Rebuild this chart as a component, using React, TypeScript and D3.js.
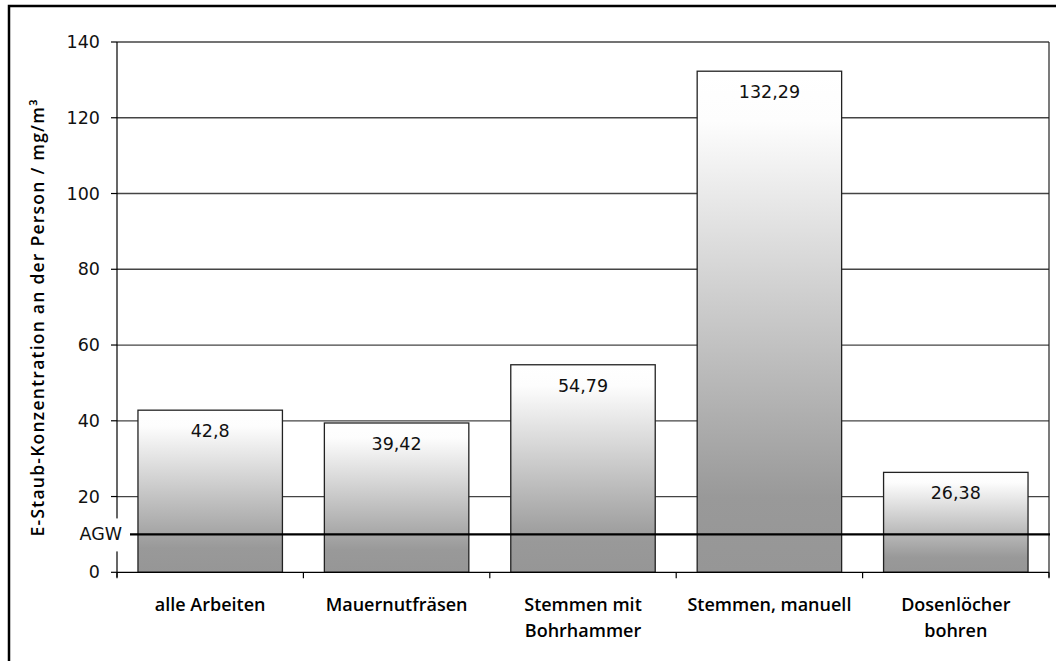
import React from "react";
import * as d3 from "d3";

const categories: string[][] = [
  ["alle Arbeiten"],
  ["Mauernutfräsen"],
  ["Stemmen mit", "Bohrhammer"],
  ["Stemmen, manuell"],
  ["Dosenlöcher", "bohren"],
];
const values: number[] = [42.8, 39.42, 54.79, 132.29, 26.38];
const valueLabels: string[] = ["42,8", "39,42", "54,79", "132,29", "26,38"];
const yTicks: number[] = [0, 20, 40, 60, 80, 100, 120, 140];
const agwValue = 10;
const agwLabel = "AGW";
const yTitle = "E-Staub-Konzentration an der Person / mg/m³";

const W = 1056;
const H = 661;
const left = 117;
const right = 1049;
const top = 42;
const bottom = 572.3;

export default function App() {
  const y = d3.scaleLinear().domain([0, 140]).range([bottom, top]);
  const x = d3
    .scaleBand<number>()
    .domain(values.map((_, i) => i))
    .range([left, right])
    .paddingInner(0.225)
    .paddingOuter(0.1125);
  const step = x.step();
  const numFont = "'DejaVu Sans', sans-serif";
  const labFont = "'Open Sans', sans-serif";
  const yAgw = y(agwValue);

  return (
    <svg
      width={W}
      height={H}
      style={{ position: "absolute", left: 0, top: 0, background: "#fff" }}
    >
      <defs>
        <linearGradient id="barGrad" x1="0" y1="0" x2="0" y2="1">
          <stop offset="0" stopColor="#ffffff" />
          <stop offset="0.1" stopColor="#fdfdfd" />
          <stop offset="0.85" stopColor="#999999" />
          <stop offset="1" stopColor="#969696" />
        </linearGradient>
      </defs>
      <rect x={0} y={0} width={W} height={H} fill="#fff" />
      {/* outer frame */}
      <rect x={9} y={6} width={1200} height={800} fill="none" stroke="#000" strokeWidth={2.5} />

      {/* gridlines */}
      {yTicks
        .filter((t) => t !== 0)
        .map((t) => (
          <line
            key={"g" + t}
            x1={left}
            x2={right}
            y1={y(t)}
            y2={y(t)}
            stroke="#444"
            strokeWidth={1.3}
          />
        ))}

      {/* right border of plot */}
      <line x1={right} x2={right} y1={top} y2={bottom + 5} stroke="#222" strokeWidth={1.2} />

      {/* bars */}
      {values.map((v, i) => (
        <rect
          key={"b" + i}
          x={x(i)!}
          y={y(v)}
          width={x.bandwidth()}
          height={bottom - y(v)}
          fill="url(#barGrad)"
          stroke="#222"
          strokeWidth={1.3}
        />
      ))}

      {/* value labels */}
      {values.map((v, i) => (
        <text
          key={"v" + i}
          x={x(i)! + x.bandwidth() / 2}
          y={y(v) + 27}
          textAnchor="middle"
          fontFamily={numFont}
          fontSize={17.5}
          fill="#111"
        >
          {valueLabels[i]}
        </text>
      ))}

      {/* y axis */}
      <line x1={left} x2={left} y1={top} y2={bottom + 5} stroke="#000" strokeWidth={1.2} />
      {yTicks.map((t) => (
        <g key={"t" + t}>
          <line x1={left - 6} x2={left} y1={y(t)} y2={y(t)} stroke="#000" strokeWidth={1.2} />
          <text
            x={left - 17}
            y={y(t) + 6}
            textAnchor="end"
            fontFamily={numFont}
            fontSize={17.5}
            fill="#111"
          >
            {t}
          </text>
        </g>
      ))}

      {/* x axis */}
      <line x1={left} x2={right} y1={bottom} y2={bottom} stroke="#000" strokeWidth={1.3} />
      {d3.range(values.length + 1).map((k) => (
        <line
          key={"xt" + k}
          x1={left + k * step}
          x2={left + k * step}
          y1={bottom}
          y2={bottom + 6}
          stroke="#000"
          strokeWidth={1.2}
        />
      ))}

      {/* category labels */}
      {categories.map((lines, i) => (
        <text
          key={"c" + i}
          x={x(i)! + x.bandwidth() / 2}
          y={611}
          textAnchor="middle"
          fontFamily={labFont}
          fontWeight={600}
          fontSize={18}
          fill="#000"
        >
          {lines.map((l, j) => (
            <tspan key={j} x={x(i)! + x.bandwidth() / 2} dy={j === 0 ? 0 : 26}>
              {l}
            </tspan>
          ))}
        </text>
      ))}

      {/* AGW line and label */}
      <rect x={68} y={yAgw - 16} width={60} height={33} fill="#fff" />
      <line x1={130} x2={right + 1} y1={yAgw} y2={yAgw} stroke="#000" strokeWidth={2.2} />
      <text
        x={122}
        y={yAgw + 6}
        textAnchor="end"
        fontFamily={numFont}
        fontSize={17.5}
        fill="#111"
      >
        {agwLabel}
      </text>

      {/* y title */}
      <text
        transform={`translate(44, 318) rotate(-90)`}
        textAnchor="middle"
        fontFamily={labFont}
        fontWeight={600}
        fontSize={17.5}
        textLength={437}
        lengthAdjust="spacing"
        fill="#000"
      >
        {yTitle}
      </text>
    </svg>
  );
}
